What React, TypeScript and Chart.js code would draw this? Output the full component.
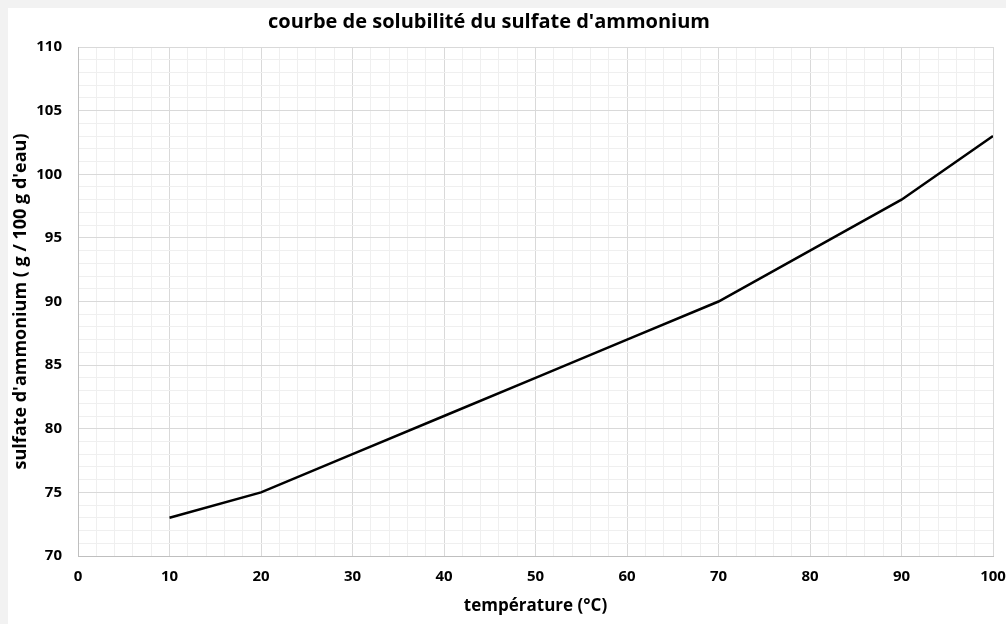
import React, { useEffect, useRef } from "react";
import { Chart, registerables } from "chart.js";

Chart.register(...registerables);

const temperatures = [10, 20, 30, 40, 50, 60, 70, 80, 90, 100];
const solubility = [73, 75, 78, 81, 84, 87, 90, 94, 98, 103];

const chartTitle = "courbe de solubilité du sulfate d'ammonium";
const xTitle = "température (°C)";
const yTitle = "sulfate d'ammonium ( g / 100 g d'eau)";

const FONT = "'Open Sans', 'DejaVu Sans', sans-serif";

const titlePlugin = {
  id: "customTitle",
  afterDraw(chart: any) {
    const ctx = chart.ctx;
    ctx.save();
    ctx.font = `bold 20px ${FONT}`;
    ctx.fillStyle = "#000";
    ctx.textAlign = "center";
    ctx.textBaseline = "middle";
    ctx.fillText(chartTitle, 481, 14);
    ctx.restore();
  },
};

const bgPlugin = {
  id: "bg",
  beforeDraw(chart: any) {
    const ctx = chart.ctx;
    ctx.save();
    ctx.fillStyle = "#ffffff";
    ctx.fillRect(0, 0, chart.width, chart.height);
    ctx.restore();
  },
};

export default function App() {
  const ref = useRef<HTMLCanvasElement | null>(null);

  useEffect(() => {
    document.body.style.background = "#f2f2f2";
    document.body.style.margin = "8px 0 0 8px";
    const canvas = ref.current!;
    const chart = new Chart(canvas, {
      type: "line",
      data: {
        datasets: [
          {
            data: temperatures.map((t, i) => ({ x: t, y: solubility[i] })),
            borderColor: "#000000",
            borderWidth: 2.5,
            pointRadius: 0,
            tension: 0,
            fill: false,
          },
        ],
      },
      plugins: [bgPlugin, titlePlugin],
      options: {
        animation: false,
        responsive: false,
        maintainAspectRatio: false,
        layout: { padding: { top: 39, right: 0, left: 0, bottom: 0 } },
        plugins: {
          legend: { display: false },
          title: { display: false },
          tooltip: { enabled: false },
        },
        scales: {
          x: {
            type: "linear",
            min: 0,
            max: 100,
            afterFit: (s: any) => {
              s.height = 68;
              s.paddingRight = 13;
            },
            ticks: {
              stepSize: 2,
              autoSkip: false,
              maxRotation: 0,
              padding: 12,
              color: "#000",
              font: { family: FONT, size: 15, weight: "bold" },
              callback: (v: any) => (Number(v) % 10 === 0 ? String(v) : ""),
            },
            grid: {
              drawTicks: false,
              lineWidth: 1,
              color: (c: any) =>
                c.tick && c.tick.value % 10 === 0 ? "#d9d9d9" : "#efefef",
            },
            border: { color: "#bfbfbf", width: 1 },
            title: {
              display: true,
              text: xTitle,
              color: "#000",
              font: { family: FONT, size: 17, weight: "bold" },
              padding: { top: 0, bottom: 8 },
            },
          },
          y: {
            type: "linear",
            min: 70,
            max: 110,
            afterFit: (s: any) => {
              s.width = 70;
            },
            ticks: {
              stepSize: 1,
              autoSkip: false,
              padding: 16,
              color: "#000",
              font: { family: FONT, size: 15, weight: "bold" },
              callback: (v: any) => (Number(v) % 5 === 0 ? String(v) : ""),
            },
            grid: {
              drawTicks: false,
              lineWidth: 1,
              color: (c: any) =>
                c.tick && c.tick.value % 5 === 0 ? "#d9d9d9" : "#efefef",
            },
            border: { color: "#bfbfbf", width: 1 },
            title: {
              display: true,
              text: yTitle,
              color: "#000",
              font: { family: FONT, size: 18, weight: "bold" },
              padding: { top: 2, bottom: 0 },
            },
          },
        },
      },
    });
    return () => chart.destroy();
  }, []);

  return (
    <div style={{ width: 998, height: 616 }}>
      <canvas ref={ref} width={998} height={616} style={{ display: "block" }} />
    </div>
  );
}
